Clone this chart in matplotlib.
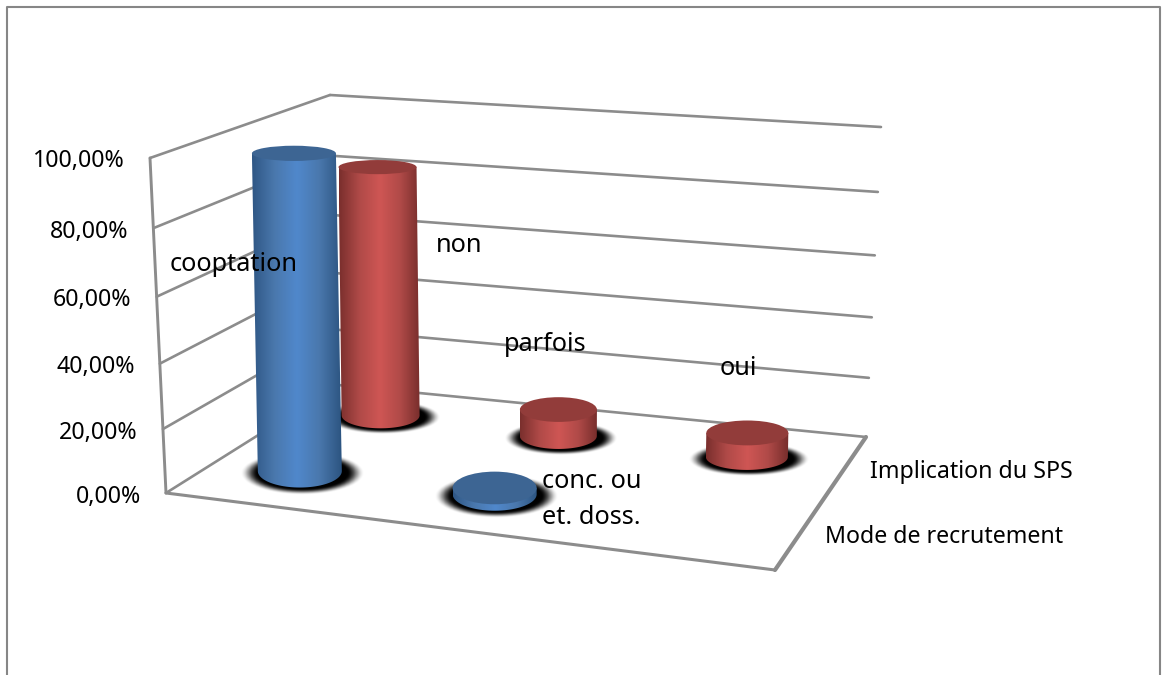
#!/usr/bin/env python3
"""Cylinder chart of recruitment mode and SPS involvement, drawn with a small 3D projection."""

import matplotlib

matplotlib.use("Agg")
import matplotlib.pyplot as plt
import numpy as np
from matplotlib.colors import LinearSegmentedColormap
from matplotlib.path import Path
from matplotlib.patches import Ellipse, PathPatch

# values in percent, one list per row of the chart
row_names = ["Mode de recrutement", "Implication du SPS"]
recrutement_labels = ["cooptation", "conc. ou\net. doss."]
recrutement_values = [98.0, 2.0]
implication_labels = ["non", "parfois", "oui"]
implication_values = [83.0, 9.0, 8.0]
tick_values = [0, 20, 40, 60, 80, 100]
tick_labels = ["0,00%", "20,00%", "40,00%", "60,00%", "80,00%", "100,00%"]

# corners of the plot box in pixels
FLOOR = {"fl": (166, 493), "fr": (775, 570), "br": (866, 437), "bl": (338, 385)}
ROOF = {"fl": (150, 158), "fr": (785, 215), "br": (881, 127), "bl": (330, 95)}

# where each cylinder stands on the floor, and its radii in pixels
RECRUTEMENT_POS = [(0.142, 0.295), (0.475, 0.295)]
IMPLICATION_POS = [(0.143, 0.795), (0.473, 0.78), (0.82, 0.772)]
RECRUTEMENT_RX = [42, 42]
IMPLICATION_RX = [39, 38.5, 41]
RECRUTEMENT_RY = 16.5
IMPLICATION_RY = 13

GRID = "#8c8c8c"
BLUE = {"cmap": ["#2f5785", "#4a78ad", "#5088cc", "#4a78ad", "#2c5480"], "top": "#3d6593"}
RED = {"cmap": ["#7a2f2d", "#b04a48", "#cf5654", "#b04a48", "#762d2b"], "top": "#923c3a"}
FONT = "Noto Sans"
TICK_SIZE = 16.7
NAME_SIZE = 16.7
LABEL_SIZE = 18.2


def corner_mix(corners, u, v):
    front = (1 - u) * np.array(corners["fl"]) + u * np.array(corners["fr"])
    back = (1 - u) * np.array(corners["bl"]) + u * np.array(corners["br"])
    return (1 - v) * front + v * back


def project(u, v, value):
    """Map column position, row position and percent value to pixels."""
    low = corner_mix(FLOOR, u, v)
    high = corner_mix(ROOF, u, v)
    z = value / 100.0
    # slight foreshortening towards the floor
    return low + (high - low) * z / (1 + 0.06 * (1 - z))


def grid_line(ax, p, q, lw=1.9):
    ax.plot([p[0], q[0]], [p[1], q[1]], color=GRID, lw=lw, solid_capstyle="round", zorder=1)


def draw_shadow(ax, x, y, a, b):
    sa, sb = a * 1.48, b * 1.3
    xs = np.linspace(-1.05, 1.05, 160)
    gx, gy = np.meshgrid(xs, xs)
    r = np.hypot(gx, gy)
    t = np.clip((r - 0.72) / 0.28, 0, 1)
    rgba = np.zeros(r.shape + (4,))
    rgba[..., 3] = 1 - t * t * (3 - 2 * t)
    ax.imshow(
        rgba,
        extent=(x + 2 - 1.05 * sa, x + 2 + 1.05 * sa, y + 2 + 1.05 * sb, y + 2 - 1.05 * sb),
        origin="upper",
        interpolation="bilinear",
        aspect="auto",
        zorder=2,
    )


def draw_cylinder(ax, pos, a, b0, value, style, z, lean=0.6):
    base = project(pos[0], pos[1], 0)
    top = project(pos[0], pos[1], value)
    # the cylinders lean less than the walls do
    top[0] = base[0] + lean * (top[0] - base[0])
    b_top = b0 * (1 - 0.55 * value / 100.0)

    # body: left edge, front arc of the base, right edge, back along the top centre line
    t = np.linspace(np.pi, 0, 60)
    arc = np.column_stack([base[0] + a * np.cos(t), base[1] + b0 * np.sin(t)])
    verts = np.vstack([[top[0] - a, top[1]], arc, [top[0] + a, top[1]], [top[0] - a, top[1]]])
    clip = PathPatch(Path(verts), transform=ax.transData, fc="none", ec="none")
    ax.add_patch(clip)

    cmap = LinearSegmentedColormap.from_list("body", style["cmap"])
    x0 = min(base[0], top[0]) - a
    x1 = max(base[0], top[0]) + a
    y0 = top[1] - 2
    y1 = base[1] + b0 + 2
    img = ax.imshow(
        np.linspace(0, 1, 128).reshape(1, -1),
        extent=(x0, x1, y1, y0),
        cmap=cmap,
        aspect="auto",
        interpolation="bilinear",
        zorder=z,
    )
    img.set_clip_path(clip)
    ax.add_patch(Ellipse(top, 2 * a, 2 * b_top, fc=style["top"], ec="none", zorder=z + 0.5))


def main():
    fig = plt.figure(figsize=(11.62, 6.75), dpi=100)
    ax = fig.add_axes([0, 0, 1, 1])

    # outer frame, open at the bottom
    ax.plot([7, 7, 1160, 1160], [675, 7, 7, 675], color="#868686", lw=1.5, zorder=1)

    # walls: one line per tick on the left wall and on the back wall
    for val in tick_values:
        grid_line(ax, project(0, 0, val), project(0, 1, val))
        grid_line(ax, project(0, 1, val), project(1, 1, val))
    grid_line(ax, project(0, 0, 0), project(0, 0, 100), lw=2.1)

    # floor edges
    grid_line(ax, project(0, 0, 0), project(1, 0, 0), lw=2.2)
    grid_line(ax, project(1, 0, 0), project(1, 1, 0), lw=3.0)

    for val, lab in zip(tick_values, tick_labels):
        x, y = project(0, 0, val)
        ax.text(x - 25, y + 3.5, lab, ha="right", va="center", family=FONT, fontsize=TICK_SIZE, zorder=20)

    rows = [
        (implication_values, IMPLICATION_POS, IMPLICATION_RX, IMPLICATION_RY, RED),
        (recrutement_values, RECRUTEMENT_POS, RECRUTEMENT_RX, RECRUTEMENT_RY, BLUE),
    ]
    z = 3
    for values, positions, radii, ry, style in rows:
        for pos, rx in zip(positions, radii):
            base = project(pos[0], pos[1], 0)
            draw_shadow(ax, base[0], base[1], rx, ry)
        for val, pos, rx in zip(values, positions, radii):
            draw_cylinder(ax, pos, rx, ry, val, style, z)
            z += 1

    label_kw = dict(family=FONT, fontsize=LABEL_SIZE, va="baseline", ha="left", zorder=20)
    name_kw = dict(family=FONT, fontsize=NAME_SIZE, va="baseline", ha="left", zorder=20)
    ax.text(170, 271, recrutement_labels[0], **label_kw)
    for line, y in zip(recrutement_labels[1].split("\n"), [488, 524]):
        ax.text(542, y, line, **label_kw)
    ax.text(436, 252, implication_labels[0], **label_kw)
    ax.text(504, 351, implication_labels[1], **label_kw)
    ax.text(720, 375, implication_labels[2], **label_kw)
    ax.text(870, 478, row_names[1], **name_kw)
    ax.text(825, 543, row_names[0], **name_kw)

    ax.set_xlim(0, 1162)
    ax.set_ylim(675, 0)
    ax.axis("off")
    fig.savefig("out.png", dpi=100, facecolor="white")
    plt.close(fig)


if __name__ == "__main__":
    main()
